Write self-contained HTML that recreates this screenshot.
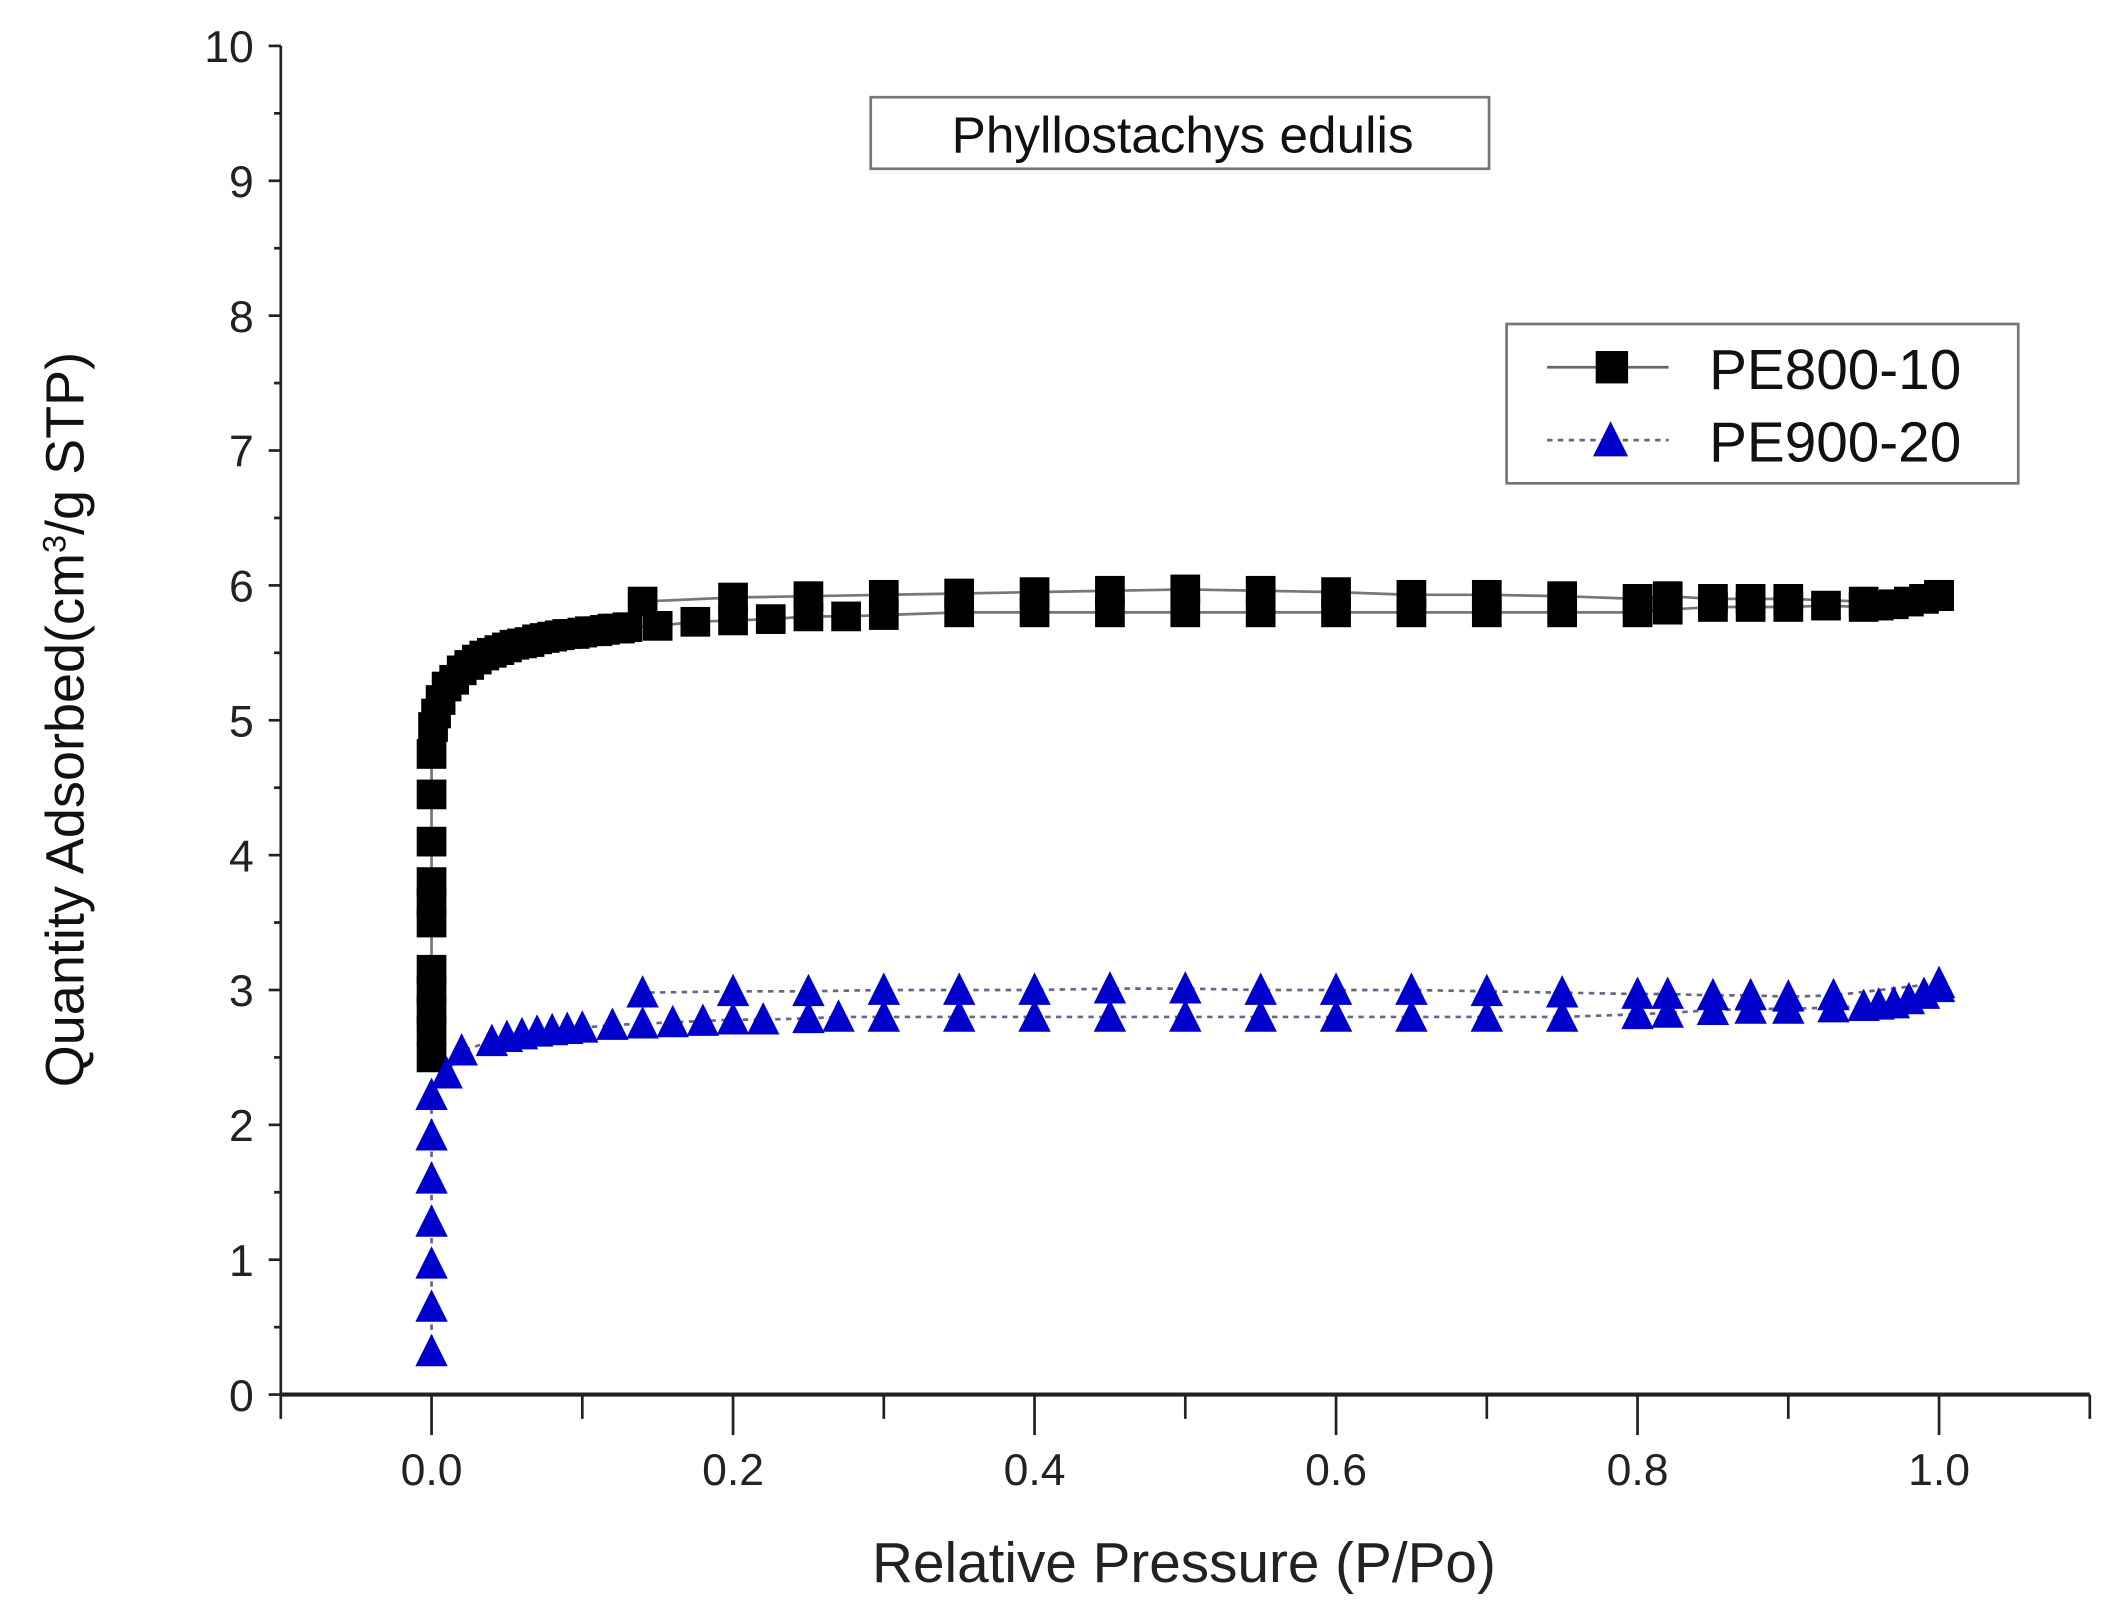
<!DOCTYPE html>
<html><head><meta charset="utf-8"><style>
html,body{margin:0;padding:0;background:#fff;}
svg{display:block;font-family:"Liberation Sans",sans-serif;}
</style></head><body>
<svg id="chart" width="2106" height="1616" viewBox="0 0 1560 1197" xmlns="http://www.w3.org/2000/svg">
<g id="axes"></g>
<g id="series"></g>
<rect x="645" y="72" width="458" height="53" fill="#fff" stroke="#777" stroke-width="2"/>
<text x="876" y="113" font-size="38" text-anchor="middle" fill="#111">Phyllostachys edulis</text>
<g>
<rect x="1116" y="240" width="379" height="118" fill="#fff" stroke="#777" stroke-width="2"/>
<g>
<line x1="1146" y1="272" x2="1236" y2="272" stroke="#666" stroke-width="2"/>
<rect x="1182" y="260" width="24" height="24" fill="#000"/>
<text x="1266" y="288" font-size="42" fill="#111">PE800-10</text>
</g>
<g>
<line x1="1146" y1="326" x2="1236" y2="326" stroke="#667" stroke-width="2" stroke-dasharray="4,4"/>
<polygon points="1180,338 1193,312 1206,338" fill="#0000cc"/>
<text x="1266" y="342" font-size="42" fill="#111">PE900-20</text>
</g>
</g>
<text x="877" y="1172" font-size="42" text-anchor="middle" fill="#222">Relative Pressure (P/Po)</text>
<text transform="translate(62,533) rotate(-90)" font-size="40" text-anchor="middle" fill="#111">Quantity Adsorbed(cm<tspan baseline-shift="super" font-size="24">3</tspan>/g STP)</text>
</svg>
<script>
const xTicks=[0.0,0.2,0.4,0.6,0.8,1.0];
const xTickLabels=["0.0","0.2","0.4","0.6","0.8","1.0"];
const yTicks=[0,1,2,3,4,5,6,7,8,9,10];
const yTickLabels=["0","1","2","3","4","5","6","7","8","9","10"];
const pe800AdsX=[0,0,0,0,0,0,0,0,0,0,0,0.001,0.003,0.006,0.01,0.015,0.02,0.025,0.03,0.035,0.04,0.045,0.05,0.055,0.06,0.065,0.07,0.075,0.08,0.085,0.09,0.095,0.1,0.105,0.11,0.115,0.12,0.125,0.13,0.15,0.175,0.2,0.225,0.25,0.275,0.3,0.35,0.4,0.45,0.5,0.55,0.6,0.65,0.7,0.75,0.8,0.82,0.85,0.875,0.9,0.925,0.95,0.96,0.97,0.98,0.99,1.0];
const pe800AdsY=[2.5,2.7,2.85,3.0,3.15,3.5,3.65,3.8,4.1,4.45,4.75,4.95,5.05,5.15,5.25,5.3,5.37,5.41,5.45,5.48,5.5,5.52,5.54,5.56,5.57,5.58,5.6,5.61,5.62,5.63,5.64,5.64,5.65,5.66,5.66,5.67,5.68,5.68,5.69,5.7,5.73,5.74,5.75,5.77,5.77,5.78,5.8,5.8,5.8,5.8,5.8,5.8,5.8,5.8,5.8,5.8,5.82,5.84,5.84,5.84,5.85,5.84,5.85,5.86,5.88,5.9,5.92];
const pe800DesX=[1.0,0.95,0.9,0.875,0.85,0.82,0.8,0.75,0.7,0.65,0.6,0.55,0.5,0.45,0.4,0.35,0.3,0.25,0.2,0.14];
const pe800DesY=[5.93,5.88,5.9,5.9,5.9,5.92,5.9,5.92,5.93,5.93,5.95,5.96,5.97,5.96,5.95,5.94,5.93,5.92,5.91,5.88];
const pe900AdsX=[0,0,0,0,0,0,0,0.01,0.02,0.04,0.05,0.06,0.07,0.08,0.09,0.1,0.12,0.14,0.16,0.18,0.2,0.22,0.25,0.27,0.3,0.35,0.4,0.45,0.5,0.55,0.6,0.65,0.7,0.75,0.8,0.82,0.85,0.875,0.9,0.93,0.95,0.96,0.97,0.98,0.99,1.0];
const pe900AdsY=[0.32,0.65,0.97,1.28,1.6,1.92,2.22,2.38,2.55,2.62,2.65,2.67,2.69,2.7,2.71,2.72,2.74,2.75,2.76,2.77,2.78,2.78,2.79,2.8,2.8,2.8,2.8,2.8,2.8,2.8,2.8,2.8,2.8,2.8,2.82,2.83,2.85,2.86,2.86,2.87,2.88,2.89,2.9,2.93,2.97,3.02];
const pe900DesX=[1.0,0.93,0.9,0.875,0.85,0.82,0.8,0.75,0.7,0.65,0.6,0.55,0.5,0.45,0.4,0.35,0.3,0.25,0.2,0.14];
const pe900DesY=[3.05,2.96,2.95,2.96,2.96,2.97,2.97,2.98,2.99,3.0,3.0,3.0,3.01,3.01,3.0,3.0,3.0,2.99,2.99,2.98];

const X0=208,X1=1548,XMIN=-0.1,XMAX=1.1;
const Y0=1033,Y1=34,YMIN=0,YMAX=10;
function sx(v){return X0+(v-XMIN)/(XMAX-XMIN)*(X1-X0);}
function sy(v){return Y0-(v-YMIN)/(YMAX-YMIN)*(Y0-Y1);}
const NS="http://www.w3.org/2000/svg";
function mk(tag,attrs,parent){const e=document.createElementNS(NS,tag);for(const k in attrs)e.setAttribute(k,attrs[k]);parent.appendChild(e);return e;}
const axes=document.getElementById('axes');
const series=document.getElementById('series');

let yl=mk('line',{x1:sx(XMIN),y1:sy(YMIN),x2:sx(XMIN),y2:sy(YMAX),stroke:'#222','stroke-width':2},axes);


let xl=mk('line',{x1:sx(XMIN),y1:sy(YMIN),x2:sx(XMAX),y2:sy(YMIN),stroke:'#222','stroke-width':3},axes);



yTicks.forEach((t,i)=>{
  mk('line',{x1:sx(XMIN)-9,y1:sy(t),x2:sx(XMIN),y2:sy(t),stroke:'#222','stroke-width':2},axes);
  if(i<yTicks.length-1)mk('line',{x1:sx(XMIN)-5,y1:sy(t+0.5),x2:sx(XMIN),y2:sy(t+0.5),stroke:'#222','stroke-width':2},axes);
  const tx=mk('text',{x:sx(XMIN)-20,y:sy(t)+12,'font-size':33,'text-anchor':'end',fill:'#222'},axes);
  tx.textContent=yTickLabels[i];
  
  
});
for(let v=-0.1;v<=1.101;v+=0.1){
  const major=Math.abs(Math.round(v*10)%2)===0;
  mk('line',{x1:sx(v),y1:sy(0),x2:sx(v),y2:sy(0)+(major?30:18),stroke:'#222','stroke-width':2},axes);
}
xTicks.forEach((t,i)=>{
  const tx=mk('text',{x:sx(t),y:1100,'font-size':33,'text-anchor':'middle',fill:'#222'},axes);
  tx.textContent=xTickLabels[i];
  
  
});

function drawLine(xs,ys,color,dash,name){
  const p=mk('polyline',{points:xs.map((x,i)=>sx(x)+','+sy(ys[i])).join(' '),fill:'none',stroke:color,'stroke-width':2,'stroke-dasharray':dash},series);
  
  
}
function drawSquares(xs,ys,name){
  xs.forEach((x,i)=>{
    const r=mk('rect',{x:sx(x)-11,y:sy(ys[i])-11,width:22,height:22,fill:'#000'},series);
    
    
  });
}
function drawTris(xs,ys,name){
  xs.forEach((x,i)=>{
    const cx=sx(x),cy=sy(ys[i]);
    const t=mk('polygon',{points:(cx-12)+','+(cy+11)+' '+cx+','+(cy-13)+' '+(cx+12)+','+(cy+11),fill:'#0000cc'},series);
    
    
  });
}
drawLine(pe800AdsX,pe800AdsY,'#777','none','pe800-adsorption-line');
drawLine(pe800DesX,pe800DesY,'#777','none','pe800-desorption-line');
drawLine(pe900AdsX,pe900AdsY,'#668','4,4','pe900-adsorption-line');
drawLine(pe900DesX,pe900DesY,'#668','4,4','pe900-desorption-line');
drawSquares(pe800AdsX,pe800AdsY,'pe800-adsorption-point');
drawSquares(pe800DesX,pe800DesY,'pe800-desorption-point');
drawTris(pe900AdsX,pe900AdsY,'pe900-adsorption-point');
drawTris(pe900DesX,pe900DesY,'pe900-desorption-point');
</script>
</body></html>
